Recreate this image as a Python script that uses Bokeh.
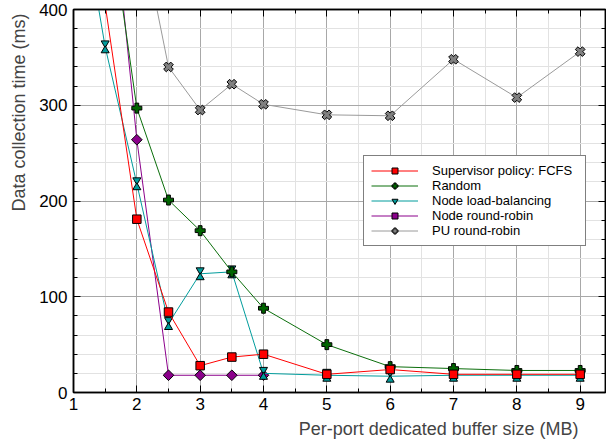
import numpy as np
from bokeh.plotting import figure
from bokeh.models import (ColumnDataSource, Legend, LegendItem, Title, LinearAxis,
                          SingleIntervalTicker, Range1d, CustomLabelingPolicy)
from bokeh.transform import dodge
from bokeh.embed import file_html
from bokeh.resources import INLINE

# ---------------- data ----------------
fcfs_x = [1.5, 2, 2.5, 3, 3.5, 4, 5, 6, 7, 8, 9]
fcfs_y = [405, 181, 84, 28, 37, 40, 19, 24, 19, 19, 19]
random_x = [1.5, 2, 2.5, 3, 3.5, 4, 5, 6, 7, 8, 9]
random_y = [530, 297, 201, 169, 126, 88, 50, 27, 25, 23, 23]
nlb_x = [1, 1.5, 2, 2.5, 3, 3.5, 4, 5, 6, 7, 8, 9]
nlb_y = [555, 361, 218, 72, 124, 126, 20, 18, 17, 18, 18, 18]
nrr_x = [1.5, 2, 2.5, 3, 3.5, 4]
nrr_y = [590, 264, 18, 18, 18, 18]
pu_x = [2, 2.5, 3, 3.5, 4, 5, 6, 7, 8, 9]
pu_y = [505, 340, 295, 322, 301, 290, 289, 348, 308, 356]

labels = ["Supervisor policy: FCFS", "Random", "Node load-balancing",
          "Node round-robin", "PU round-robin"]
x_title = "Per-port dedicated buffer size (MB)"
y_title = "Data collection time (ms)"
x_ticks_interval = 1
y_ticks_interval = 100

FONT = "Liberation Sans"

p = figure(width=606, height=448, output_backend="svg", toolbar_location=None,
           x_range=Range1d(1, 9.4), y_range=Range1d(0, 400),
           min_border_left=73, min_border_right=1, min_border_top=9,
           min_border_bottom=56)
p.background_fill_color = "white"
p.border_fill_color = "white"
p.outline_line_color = "black"
p.outline_line_width = 1.5

p.xaxis.ticker = SingleIntervalTicker(interval=x_ticks_interval, num_minor_ticks=2)
p.yaxis.ticker = SingleIntervalTicker(interval=y_ticks_interval, num_minor_ticks=5)
p.xgrid.ticker = p.xaxis.ticker
p.ygrid.ticker = p.yaxis.ticker

for g in (p.xgrid, p.ygrid):
    g.grid_line_color = "#a8a8a8"
    g.grid_line_width = 1
    g.minor_grid_line_color = "#e2e2e2"
    g.minor_grid_line_width = 1

for ax in (p.xaxis, p.yaxis):
    ax.axis_line_color = "black"
    ax.axis_line_width = 1.5
    ax.major_tick_in = 7
    ax.major_tick_out = 0
    ax.minor_tick_in = 4
    ax.minor_tick_out = 0
    ax.major_tick_line_color = "black"
    ax.minor_tick_line_color = "black"
    ax.major_label_text_font = FONT
    ax.major_label_text_font_size = "17px"
    ax.major_label_text_color = "black"
p.xaxis.major_label_standoff = 5
p.yaxis.major_label_standoff = 6

# mirrored axes with inward ticks and no labels
no_labels = CustomLabelingPolicy(code="""
try { for (const i of Array.from(indices.ones())) { indices.unset(i) } } catch (e) {}
return indices
""")
for loc, tk in (("right", p.yaxis.ticker), ("above", p.xaxis.ticker)):
    ax = LinearAxis(ticker=tk, major_label_text_font_size="0px",
                    major_label_policy=no_labels,
                    major_label_standoff=0, major_tick_in=7, major_tick_out=0,
                    minor_tick_in=4, minor_tick_out=0, axis_line_color="black",
                    axis_line_width=1.5)
    p.add_layout(ax, loc)

# axis titles
p.add_layout(Title(text=x_title, align="right", offset=27, text_font=FONT,
                   text_font_size="18px", text_font_style="normal", standoff=8),
             "below")
p.add_layout(Title(text=y_title, align="right", offset=4, vertical_align="top",
                   text_font=FONT, text_font_size="18px", text_font_style="normal",
                   standoff=12),
             "left")

# ---------------- series ----------------
s_fcfs = ColumnDataSource(dict(x=fcfs_x, y=fcfs_y))
s_rand = ColumnDataSource(dict(x=random_x, y=random_y))
s_nlb = ColumnDataSource(dict(x=nlb_x, y=nlb_y))
s_nrr = ColumnDataSource(dict(x=nrr_x, y=nrr_y))
s_pu = ColumnDataSource(dict(x=pu_x, y=pu_y))

items = {}

# PU round-robin (drawn first)
l = p.line("x", "y", source=s_pu, line_color="#9a9a9a", line_width=1)
m = p.scatter("x", "y", source=s_pu, marker="plus", angle=np.pi / 4, size=10,
              fill_color="#808080", line_color="black", line_width=1)
items[labels[4]] = [l, m]

# Node round-robin
l = p.line("x", "y", source=s_nrr, line_color="#8b008b", line_width=1)
m = p.scatter("x", "y", source=s_nrr, marker="square", angle=np.pi / 4, size=7.5,
              fill_color="#8b008b", line_color="black", line_width=1)
items[labels[3]] = [l, m]

# Node load-balancing (hourglass from two triangles)
l = p.line("x", "y", source=s_nlb, line_color="#009c9c", line_width=1)
m1 = p.scatter("x", dodge("y", 3.8, range=p.y_range), source=s_nlb,
               marker="inverted_triangle", size=8, fill_color="#009c9c",
               line_color="black", line_width=1)
m2 = p.scatter("x", dodge("y", -3.8, range=p.y_range), source=s_nlb,
               marker="triangle", size=8, fill_color="#009c9c",
               line_color="black", line_width=1)
items[labels[2]] = [l, m1]

# Random
l = p.line("x", "y", source=s_rand, line_color="#0b6e0b", line_width=1)
m = p.scatter("x", "y", source=s_rand, marker="plus", size=10,
              fill_color="#006400", line_color="black", line_width=1)
items[labels[1]] = [l, m]

# FCFS (on top)
l = p.line("x", "y", source=s_fcfs, line_color="#ff0000", line_width=1)
m = p.scatter("x", "y", source=s_fcfs, marker="square", size=8.5,
              fill_color="#ff0000", line_color="black", line_width=1)
items[labels[0]] = [l, m]

legend = Legend(items=[LegendItem(label=lab, renderers=items[lab]) for lab in labels],
                location=(290, 146))
legend.label_text_font = FONT
legend.label_text_font_size = "13px"
legend.label_text_color = "black"
legend.glyph_width = 47
legend.glyph_height = 15
legend.label_height = 15
legend.spacing = 0
legend.padding = 7
legend.margin = 0
legend.label_standoff = 14
legend.label_width = 146
legend.border_line_color = "black"
legend.border_line_width = 1
legend.background_fill_alpha = 1
p.add_layout(legend)

open("out.html", "w").write(file_html(p, INLINE))
